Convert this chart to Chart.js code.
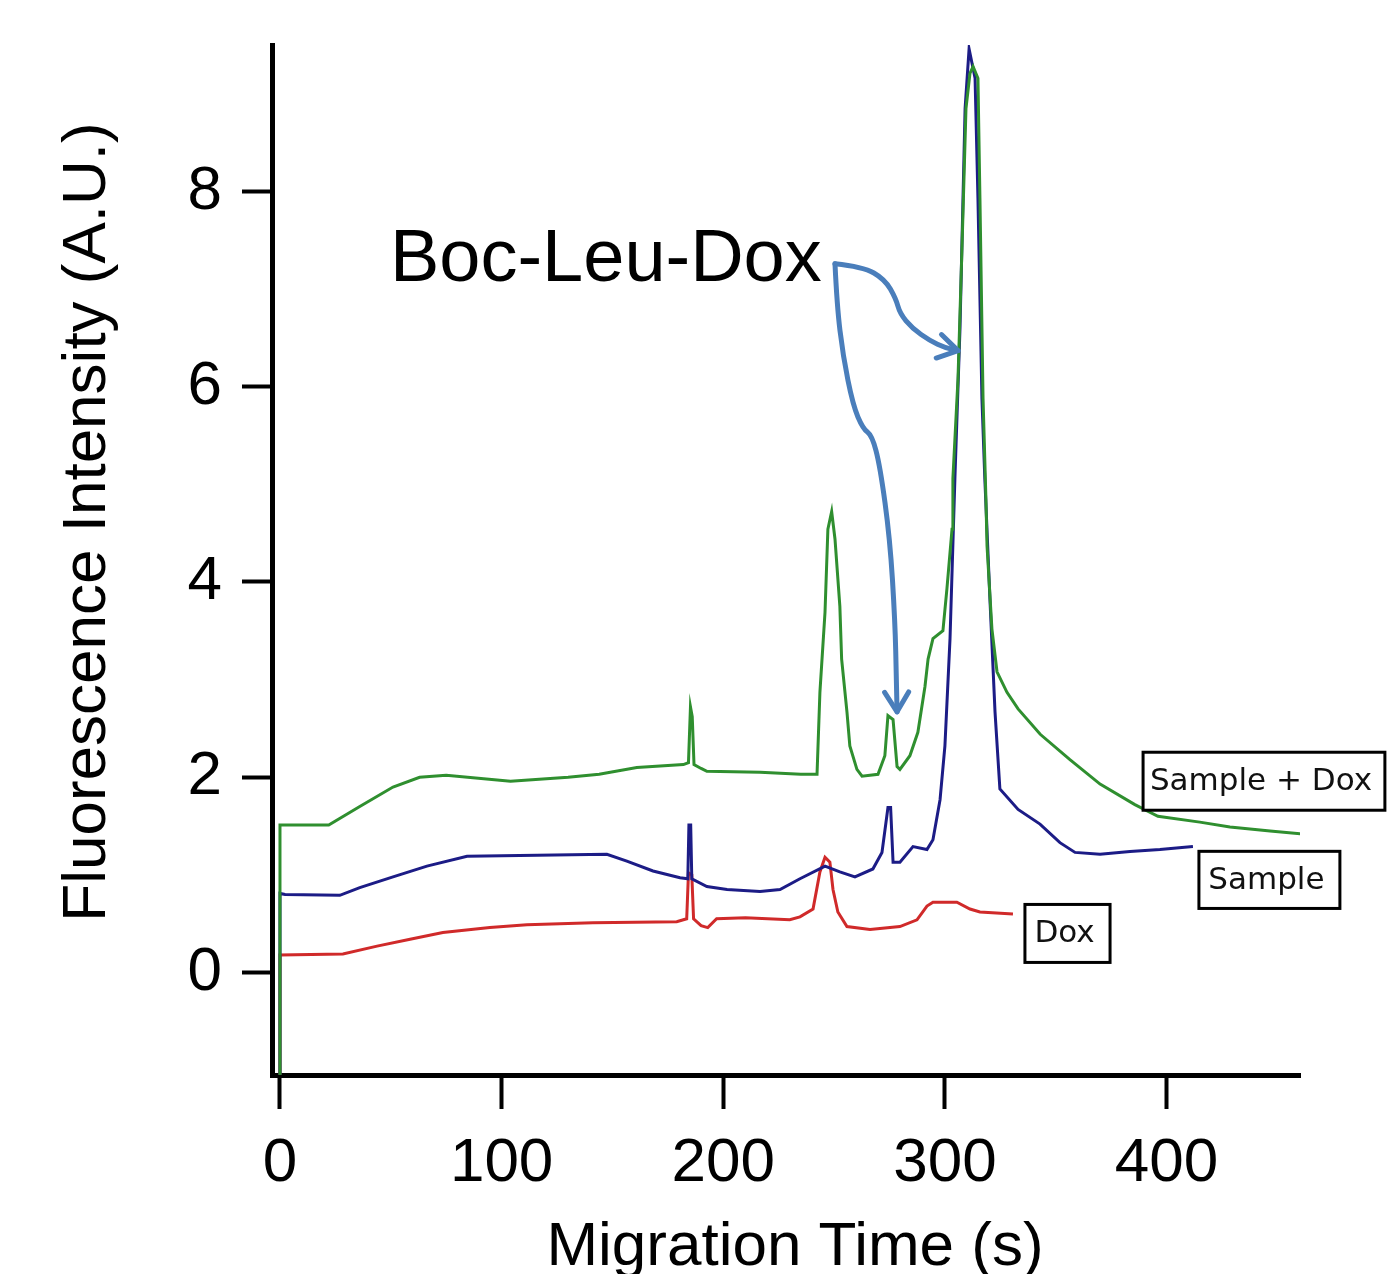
<!DOCTYPE html>
<html>
<head>
<meta charset="utf-8">
<script src="https://cdn.jsdelivr.net/npm/chart.js@4.4.0/dist/chart.umd.min.js"></script>
<style>
    body { margin: 0; background: #fff; }
    #wrap { width: 1394px; height: 1274px; }
</style>
</head>
<body>
<div id="wrap"><canvas id="chart"></canvas></div>
<script>
// tick labels
const xTicks = [0, 100, 200, 300, 400];
const yTicks = [0, 2, 4, 6, 8];

// Sample + Dox (green)
const sampleDoxX = [
    0, 0, 22, 36, 51, 63, 75, 104, 130, 144,
    161, 182, 184.3, 185.2, 186, 186.8, 190, 192.6, 216.6, 235,
    242.3, 243.6, 245.9, 247.2, 248.9, 250.4, 252.6, 253.4, 255.8, 257.1,
    260.3, 262.6, 269.8, 272.9, 274.3, 276.6, 278.4, 279.7, 284.2, 287.8,
    291.0, 292.4, 294.6, 299.1, 300.9, 303.2, 303.6, 305.9, 307.7, 309.5,
    311.3, 312.7, 314.9, 315.8, 317.2, 318.5, 319.0, 321.2, 323.5, 328.0,
    333.0, 343.0, 356.4, 370.0, 385.7, 396.1, 415.0, 428.6, 446.7, 461.1
];
const sampleDoxY = [
    -1.1, 1.51, 1.51, 1.70, 1.90, 2.00, 2.02, 1.96, 2.00, 2.03,
    2.10, 2.13, 2.15, 2.72, 2.62, 2.13, 2.09, 2.06, 2.05, 2.03,
    2.03, 2.87, 3.69, 4.54, 4.72, 4.44, 3.75, 3.21, 2.67, 2.32,
    2.08, 2.01, 2.03, 2.22, 2.63, 2.59, 2.11, 2.08, 2.22, 2.46,
    2.93, 3.21, 3.42, 3.50, 3.93, 4.54, 5.06, 6.08, 7.42, 8.85,
    9.21, 9.28, 9.16, 7.93, 5.88, 4.85, 4.37, 3.52, 3.08, 2.87,
    2.70, 2.44, 2.18, 1.93, 1.72, 1.60, 1.54, 1.49, 1.45, 1.42
];

// Sample (blue)
const sampleX = [
    0, 0, 2.3, 27, 36, 51, 66.3, 84.4, 147.5, 156.5,
    168.3, 180.5, 184.0, 184.5, 185.3, 185.8, 192.6, 201.7, 216.6, 225.6,
    234.6, 245.9, 252.6, 259.4, 267.5, 271.6, 274.3, 275.5, 276.6, 279.7,
    285.6, 291.9, 294.6, 297.8, 300.0, 302.3, 304.5, 306.8, 309.1, 310.9,
    313.6, 314.9, 316.7, 318.0, 320.3, 322.6, 324.8, 333.0, 342.9, 351.9,
    358.7, 370.0, 383.5, 397.0, 411.9
];
const sampleY = [
    -1.1, 0.81, 0.80, 0.79, 0.87, 0.98, 1.09, 1.19, 1.21, 1.14,
    1.04, 0.97, 0.96, 1.51, 1.51, 0.96, 0.88, 0.85, 0.83, 0.85,
    0.96, 1.09, 1.03, 0.98, 1.06, 1.23, 1.69, 1.69, 1.13, 1.13,
    1.29, 1.26, 1.36, 1.77, 2.32, 3.42, 5.06, 6.60, 8.85, 9.46,
    9.16, 7.93, 5.88, 5.06, 3.83, 2.67, 1.88, 1.67, 1.52, 1.33,
    1.23, 1.21, 1.24, 1.26, 1.29
];

// Dox (red)
const doxX = [
    0, 0, 28.4, 43.8, 58.7, 73.5, 94.7, 111.4, 141.2, 179.0,
    183.5, 184.3, 185.8, 186.6, 190.0, 193.0, 197.0, 210.0, 230.0, 234.6,
    240.5, 243.6, 245.9, 248.1, 249.5, 251.7, 255.8, 266.2, 279.7, 287.4,
    291.9, 294.6, 305.4, 311.3, 315.8, 330.7
];
const doxY = [
    -1.1, 0.18, 0.19, 0.27, 0.34, 0.41, 0.46, 0.49, 0.51, 0.52,
    0.55, 1.02, 1.00, 0.55, 0.48, 0.46, 0.55, 0.56, 0.54, 0.57,
    0.65, 1.03, 1.18, 1.13, 0.85, 0.62, 0.47, 0.44, 0.47, 0.54,
    0.68, 0.72, 0.72, 0.65, 0.62, 0.60
];

// annotation anchors, in data units
const arrowToMainPeak = [[250.4, 7.26], [263.0, 7.23], [272.9, 7.10], [277.9, 6.90], [279.7, 6.75], [285.2, 6.60], [293.3, 6.47], [300.0, 6.40], [305.9, 6.37]];
const arrowToSmallPeak = [[250.4, 7.26], [251.3, 6.83], [254.0, 6.32], [258.5, 5.81], [263.0, 5.57], [267.1, 5.50], [270.7, 5.19], [275.2, 4.44], [277.5, 3.59], [278.1, 3.00], [278.4, 2.67]];
const traceLabels = [
    { text: 'Sample + Dox', x0: 389.4, x1: 498.5, y0: 2.256, y1: 1.662 },
    { text: 'Sample', x0: 414.6, x1: 478.2, y0: 1.241, y1: 0.656 },
    { text: 'Dox', x0: 336.1, x1: 374.5, y0: 0.697, y1: 0.103 }
];

const toPoints = (xs, ys) => xs.map((x, i) => ({ x: x, y: ys[i] }));

Chart.defaults.font.family = "'Liberation Sans', Arial, sans-serif";
Chart.defaults.color = '#000';

function drawCurve(ctx, pts) {
    ctx.beginPath();
    ctx.moveTo(pts[0][0], pts[0][1]);
    for (let i = 1; i < pts.length - 1; i++) {
        const mx = (pts[i][0] + pts[i + 1][0]) / 2;
        const my = (pts[i][1] + pts[i + 1][1]) / 2;
        ctx.quadraticCurveTo(pts[i][0], pts[i][1], mx, my);
    }
    const last = pts[pts.length - 1];
    ctx.lineTo(last[0], last[1]);
    ctx.stroke();

    // open arrow head
    const prev = pts[pts.length - 2];
    const ang = Math.atan2(last[1] - prev[1], last[0] - prev[0]);
    const len = 23, spread = 0.55;
    ctx.beginPath();
    ctx.moveTo(last[0] - len * Math.cos(ang - spread), last[1] - len * Math.sin(ang - spread));
    ctx.lineTo(last[0], last[1]);
    ctx.lineTo(last[0] - len * Math.cos(ang + spread), last[1] - len * Math.sin(ang + spread));
    ctx.stroke();
}

const annotations = {
    id: 'annotations',
    afterDraw(chart) {
        const ctx = chart.ctx;
        const xs = chart.scales.x, ys = chart.scales.y;
        const px = p => [xs.getPixelForValue(p[0]), ys.getPixelForValue(p[1])];
        ctx.save();

        // axis titles
        ctx.fillStyle = '#000';
        ctx.font = "62px 'Liberation Sans', Arial, sans-serif";
        ctx.textAlign = 'center';
        ctx.textBaseline = 'alphabetic';
        ctx.fillText('Migration Time (s)', 795, 1265);
        ctx.save();
        ctx.translate(105, 522);
        ctx.rotate(-Math.PI / 2);
        ctx.fillText('Fluorescence Intensity (A.U.)', 0, 0);
        ctx.restore();

        // Boc-Leu-Dox callout
        ctx.font = "74px 'Liberation Sans', Arial, sans-serif";
        ctx.textAlign = 'left';
        ctx.fillText('Boc-Leu-Dox', xs.getPixelForValue(49.6), ys.getPixelForValue(7.08));

        ctx.strokeStyle = '#4a7ebb';
        ctx.lineWidth = 5;
        ctx.lineCap = 'round';
        ctx.lineJoin = 'round';
        drawCurve(ctx, arrowToMainPeak.map(px));
        drawCurve(ctx, arrowToSmallPeak.map(px));

        // boxed trace labels
        ctx.font = "31px 'DejaVu Sans', sans-serif";
        ctx.textAlign = 'center';
        ctx.textBaseline = 'middle';
        ctx.lineCap = 'butt';
        ctx.lineJoin = 'miter';
        traceLabels.forEach(l => {
            const [ax, ay] = px([l.x0, l.y0]);
            const [bx, by] = px([l.x1, l.y1]);
            ctx.fillStyle = '#fff';
            ctx.fillRect(ax, ay, bx - ax, by - ay);
            ctx.strokeStyle = '#000';
            ctx.lineWidth = 3;
            ctx.strokeRect(ax, ay, bx - ax, by - ay);
            ctx.fillStyle = '#111';
            ctx.fillText(l.text, (ax + bx) / 2 - 3, (ay + by) / 2 + 1);
        });
        ctx.restore();
    }
};

const lineStyle = { showLine: true, pointRadius: 0, borderWidth: 3, tension: 0 };

new Chart(document.getElementById('chart'), {
    type: 'scatter',
    data: {
        datasets: [
            Object.assign({ label: 'Sample + Dox', data: toPoints(sampleDoxX, sampleDoxY), borderColor: '#2f8f2f' }, lineStyle),
            Object.assign({ label: 'Sample', data: toPoints(sampleX, sampleY), borderColor: '#1c1c86' }, lineStyle),
            Object.assign({ label: 'Dox', data: toPoints(doxX, doxY), borderColor: '#d02a2a' }, lineStyle)
        ]
    },
    options: {
        responsive: true,
        maintainAspectRatio: false,
        devicePixelRatio: 1,
        animation: false,
        layout: { padding: { top: 45, right: 94, left: 0, bottom: 0 } },
        plugins: {
            legend: { display: false },
            tooltip: { enabled: false }
        },
        scales: {
            x: {
                type: 'linear',
                min: -3.6,
                max: 460.2,
                afterFit: scale => {
                    scale.height = 199;
                    scale.paddingLeft = 0;
                    scale.paddingRight = 0;
                },
                afterBuildTicks: scale => { scale.ticks = xTicks.map(v => ({ value: v })); },
                ticks: { font: { size: 62 }, color: '#000', padding: 18, maxRotation: 0 },
                grid: { drawOnChartArea: false, tickLength: 34, tickWidth: 4, tickColor: '#000' },
                border: { width: 5, color: '#000' }
            },
            y: {
                min: -1.05,
                max: 9.5,
                afterFit: scale => {
                    scale.width = 272;
                    scale.paddingTop = 0;
                    scale.paddingBottom = 0;
                },
                afterBuildTicks: scale => { scale.ticks = yTicks.map(v => ({ value: v })); },
                ticks: { font: { size: 62 }, color: '#000', padding: 20 },
                grid: { drawOnChartArea: false, tickLength: 30, tickWidth: 4, tickColor: '#000' },
                border: { width: 5, color: '#000' }
            }
        }
    },
    plugins: [annotations]
});
</script>
</body>
</html>
